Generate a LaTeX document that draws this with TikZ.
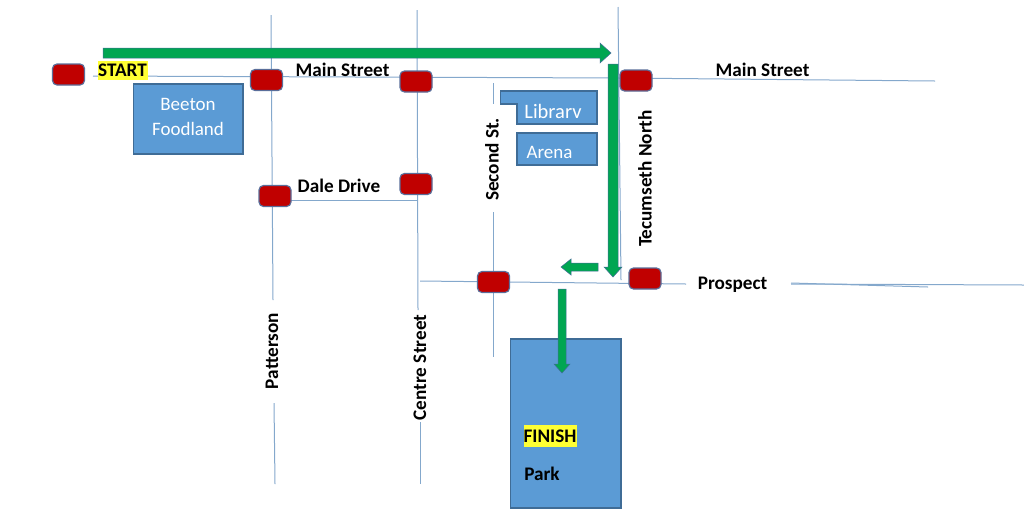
\documentclass[tikz,border=0pt]{standalone}
\usepackage{fontspec}
\setmainfont{Carlito}
\definecolor{road}{HTML}{84A8CC}
\definecolor{boxfill}{HTML}{5B9BD5}
\definecolor{boxline}{HTML}{3F6C96}
\definecolor{stopred}{HTML}{C00000}
\definecolor{stopline}{HTML}{5A6E9A}
\definecolor{routegreen}{HTML}{00A651}
\definecolor{hilite}{HTML}{FFFF33}
\tikzset{
  roadline/.style={draw=road,line width=1pt},
  stopsign/.style={rectangle,rounded corners=4.5pt,minimum width=32pt,minimum height=21pt,inner sep=0pt,fill=stopred,draw=stopline,line width=1.2pt},
  place/.style={fill=boxfill,draw=boxline,line width=1.2pt},
  placetext/.style={text=white,font=\fontsize{19}{22}\selectfont,align=center,inner sep=0pt},
  streetlabel/.style={font=\fontsize{19.2}{22}\selectfont\bfseries,inner sep=0pt},
  route/.style={fill=routegreen,draw=boxline,line width=0.5pt},
}
\begin{document}
\begin{tikzpicture}[x=1pt,y=-1pt]
\useasboundingbox (0,0) rectangle (1024,515);
% roads
\draw[roadline] (93,76) -- (620,78) -- (935,81);
\draw[roadline] (271,15) -- (273,300);
\draw[roadline] (274,403) -- (275,484);
\draw[roadline] (417,10) -- (418,310);
\draw[roadline] (420,422) -- (420,484);
\draw[roadline] (493,83) -- (493,104);
\draw[roadline] (493,212) -- (493,357);
\draw[roadline] (618,7) -- (621,280);
\draw[roadline] (420,281) -- (686,284);
\draw[roadline] (791,284) -- (1024,285);
\draw[roadline] (791,283) -- (928,287);
\draw[roadline] (275,200) -- (417,200);
% places
\path[place] (133.5,84) rectangle (243,154);
\node[placetext] (beeton) at (188,117) {Beeton\\[3.5pt]Foodland};
\path[place] (500.5,91) -- (597,91) -- (597,124) -- (517,124) -- (517,104) -- (500.5,104) -- cycle;
\node[placetext,font=\fontsize{20.5}{22}\selectfont] (library) at (553,111) {Librarv};
\path[place] (517,133) rectangle (597,165);
\node[placetext] (arena) at (549.5,152) {Arena};
\path[place] (510.5,339) rectangle (621,508);
% route arrows
\path[route] (103,48) -- (600,48) -- (600,43) -- (611,53) -- (600,63) -- (600,58) -- (103,58) -- cycle;
\path[route] (608,64) -- (618,64) -- (618,267) -- (622,267) -- (613,277) -- (604,267) -- (608,267) -- cycle;
\path[route] (598,263) -- (571,263) -- (571,259) -- (561,267) -- (571,275) -- (571,271) -- (598,271) -- cycle;
\path[route] (558,289) -- (566,289) -- (566,364) -- (570,364) -- (562,373) -- (554,364) -- (558,364) -- cycle;
% stop signs
\node[stopsign] (s1) at (68.5,74.5) {};
\node[stopsign] (s2) at (266.5,80) {};
\node[stopsign] (s3) at (416,81.5) {};
\node[stopsign] (s4) at (636,80.5) {};
\node[stopsign] (s5) at (275,196) {};
\node[stopsign] (s6) at (416,184) {};
\node[stopsign] (s7) at (493.5,282) {};
\node[stopsign] (s8) at (645,278.5) {};
% labels
\node[streetlabel,fill=hilite,minimum width=50pt,minimum height=19pt] (start) at (122.5,70.5) {START};
\node[streetlabel] (main1) at (342.5,69.5) {Main Street};
\node[streetlabel] (main2) at (762.5,69.5) {Main Street};
\node[streetlabel] (dale) at (339,185.5) {Dale Drive};
\node[streetlabel] (prospect) at (732.5,285) {Prospect};
\node[streetlabel,rotate=90] (patterson) at (272,351) {Patterson};
\node[streetlabel,rotate=90] (centre) at (420,367.5) {Centre Street};
\node[streetlabel,rotate=90] (second) at (492,159.5) {Second St.};
\node[streetlabel,rotate=90] (tec) at (645,178.5) {Tecumseth North};
\node[streetlabel,fill=hilite,minimum width=53pt,minimum height=22pt] (finish) at (550,436) {FINISH};
\node[streetlabel] (park) at (542,474) {Park};
\end{tikzpicture}
\end{document}
